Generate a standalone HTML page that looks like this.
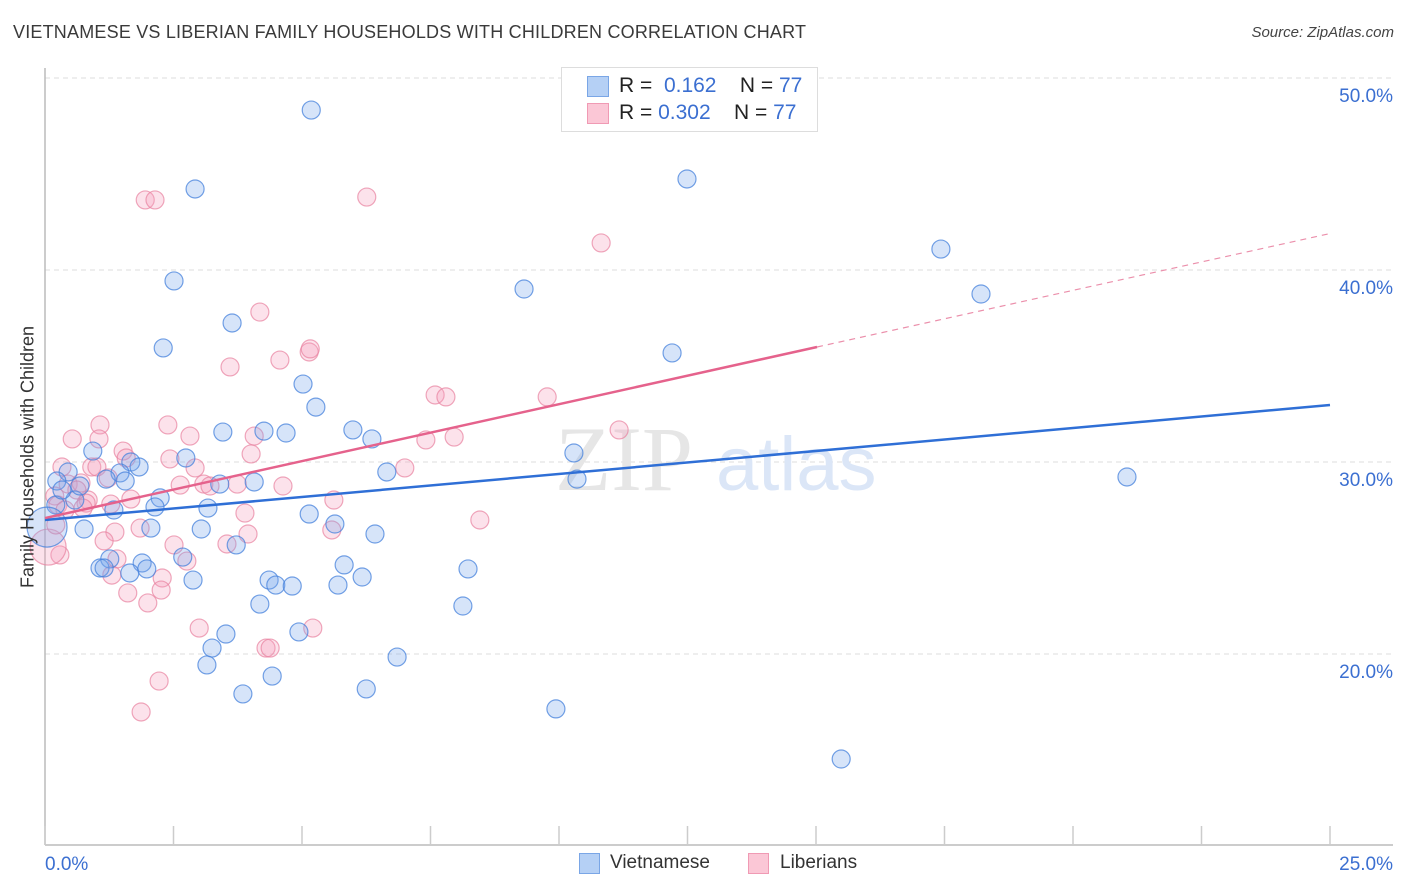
<!DOCTYPE html>
<html><head><meta charset="utf-8"><style>
body{margin:0;background:#fff;font-family:"Liberation Sans",sans-serif;}
#wrap{position:relative;width:1406px;height:892px;overflow:hidden;}
.t{position:absolute;white-space:nowrap;}
</style></head><body><div id="wrap">
<div class="t" style="left:13px;top:22px;font-size:18px;color:#3a3a3a;letter-spacing:0.2px">VIETNAMESE VS LIBERIAN FAMILY HOUSEHOLDS WITH CHILDREN CORRELATION CHART</div>
<div class="t" style="right:12px;top:24px;font-size:15px;color:#444;font-style:italic">Source: ZipAtlas.com</div>
<svg id="plot" width="1406" height="892" style="position:absolute;left:0;top:0"></svg>
<div class="t" style="left:28px;top:457px;font-size:18px;color:#333;transform:translate(-50%,-50%) rotate(-90deg)">Family Households with Children</div>
<div style="position:absolute;left:561px;top:67px;width:255px;height:63px;border:1px solid #ddd;background:#fff"></div>
<div style="position:absolute;left:587px;top:76px;width:20px;height:19px;background:#b5d0f5;border:1px solid #7aa6e6"></div>
<div style="position:absolute;left:587px;top:103px;width:20px;height:19px;background:#fbc7d6;border:1px solid #f09ab4"></div>
<div class="t" style="left:619px;top:74px;font-size:21px;color:#222">R = &nbsp;<span style="color:#3b6fd1">0.162</span>&nbsp;&nbsp;&nbsp; N = <span style="color:#3b6fd1">77</span></div>
<div class="t" style="left:619px;top:101px;font-size:21px;color:#222">R = <span style="color:#3b6fd1">0.302</span>&nbsp;&nbsp;&nbsp; N = <span style="color:#3b6fd1">77</span></div>
<div style="position:absolute;left:579px;top:853px;width:19px;height:19px;background:#b5d0f5;border:1px solid #7aa6e6"></div>
<div class="t" style="left:610px;top:852px;font-size:19px;color:#333">Vietnamese</div>
<div style="position:absolute;left:748px;top:853px;width:19px;height:19px;background:#fbc7d6;border:1px solid #f09ab4"></div>
<div class="t" style="left:780px;top:852px;font-size:19px;color:#333">Liberians</div>
</div>
<script>
const yTicks=[20,30,40,50];
const xTickLabels=["0.0%","25.0%"];
const blueX=[5.18,2.92,12.49,17.43,18.21,2.51,9.32,3.64,2.30,12.20,5.02,5.27,3.46,4.26,4.69,5.99,6.36,10.29,0.93,1.67,1.83,2.74,0.45,1.46,6.65,10.35,21.05,0.23,1.19,1.56,3.40,4.07,0.58,2.24,0.21,1.34,2.14,3.17,5.14,0.76,2.06,3.04,5.64,6.42,3.72,1.26,1.89,2.68,5.82,1.07,1.15,1.65,1.98,8.23,2.88,4.36,4.49,4.81,5.70,6.17,4.18,8.13,4.94,3.52,3.25,6.85,3.15,4.42,6.25,3.85,9.94,15.49,0.04,0.33,0.68];
const blueY=[48.33,44.22,44.74,41.09,38.75,39.43,39.01,37.24,35.94,35.68,34.06,32.86,31.56,31.61,31.51,31.67,31.20,30.47,30.57,30.00,29.74,30.21,29.48,29.43,29.48,29.11,29.22,29.01,29.11,29.01,28.85,28.96,28.02,28.13,27.76,27.50,27.66,27.60,27.29,26.51,26.56,26.51,26.77,26.25,25.68,24.95,24.74,25.05,24.64,24.48,24.48,24.22,24.43,24.43,23.85,23.85,23.59,23.54,23.59,24.01,22.60,22.50,21.15,21.04,20.31,19.84,19.43,18.85,18.18,17.92,17.14,14.53,26.61,28.54,28.75];
const pinkX=[1.95,2.14,6.26,10.82,4.18,3.60,4.57,5.14,5.16,7.59,7.80,9.77,11.17,7.96,7.41,2.39,1.07,0.53,1.05,2.82,4.07,1.52,1.58,0.91,1.01,2.43,2.92,4.01,7.00,0.33,0.45,0.70,1.23,2.63,3.09,3.21,3.74,4.63,1.67,0.84,0.80,1.28,0.19,0.25,5.62,3.89,3.95,1.36,1.85,8.46,5.58,2.51,1.15,3.54,1.40,2.76,0.29,0.06,1.30,2.28,1.61,2.00,2.26,3.00,5.21,4.30,4.38,2.22,1.87,0.21,0.39,0.74,0.62];
const pinkY=[43.65,43.65,43.80,41.41,37.81,34.95,35.31,35.73,35.89,33.49,33.39,33.39,31.67,31.30,31.15,31.93,31.93,31.20,31.20,31.35,31.35,30.57,30.21,29.74,29.74,30.16,29.69,30.42,29.69,29.74,28.85,28.91,29.17,28.80,28.85,28.75,28.85,28.75,28.07,28.02,27.86,27.81,28.23,27.76,28.02,27.34,26.25,26.35,26.56,26.98,26.46,25.68,25.89,25.73,24.95,24.84,25.16,25.57,24.11,23.96,23.18,22.66,23.33,21.35,21.35,20.31,20.31,18.59,16.98,26.72,27.50,27.60,28.54];
const blueTrend=[26.98,32.97];
const pinkTrend=[27.08,35.99,41.9];
const pinkSolidEnd=15.02;
const bigBlue=72, bigPink=57;

const sx=v=>45+v*51.4, sy=v=>1038-v*19.2;
const svg=document.getElementById('plot');const NS='http://www.w3.org/2000/svg';
function mk(tag,attrs){const e=document.createElementNS(NS,tag);for(const k in attrs)e.setAttribute(k,attrs[k]);svg.appendChild(e);return e;}
yTicks.forEach(t=>{
 const g=mk('line',{x1:45,x2:1393,y1:sy(t),y2:sy(t),stroke:'#ddd','stroke-dasharray':'5,4'});
 
 
 const tx=mk('text',{x:1393,y:sy(t)+24,'text-anchor':'end','font-size':19,fill:'#3b6fd1','font-family':'Liberation Sans, sans-serif'});tx.textContent=t.toFixed(1)+'%';
 
 
});
let a=mk('line',{x1:45,x2:45,y1:68,y2:845,stroke:'#bbb','stroke-width':1.5});


a=mk('line',{x1:45,x2:1393,y1:845,y2:845,stroke:'#bbb','stroke-width':1.5});


for(let i=0;i<=10;i++){const t=mk('line',{x1:sx(i*2.5),x2:sx(i*2.5),y1:826,y2:845,stroke:'#ccc','stroke-width':1.5});
 
 }
[[0,'start',45],[25,'end',1393]].forEach((p,i)=>{const tx=mk('text',{x:p[2],y:870,'text-anchor':p[1],'font-size':19,fill:'#3b6fd1','font-family':'Liberation Sans, sans-serif'});tx.textContent=xTickLabels[i];
 
 });
let w=mk('text',{x:555,y:490,'font-size':92,fill:'#e6e6e6','font-family':'Liberation Serif, serif'});w.textContent='ZIP';


w=mk('text',{x:716,y:490,'font-size':76,fill:'#dbe6f7','font-family':'Liberation Sans, sans-serif'});w.textContent='atlas';


pinkX.forEach((x,i)=>{const c=mk('circle',{cx:sx(x),cy:sy(pinkY[i]),r:i===bigPink?18:9,fill:'rgba(246,160,188,0.3)',stroke:'rgba(232,130,160,0.7)','stroke-width':1.2});
 
 });
blueX.forEach((x,i)=>{const c=mk('circle',{cx:sx(x),cy:sy(blueY[i]),r:i===bigBlue?20:9,fill:'rgba(120,165,235,0.3)',stroke:'rgba(70,130,220,0.75)','stroke-width':1.2});
 
 });
let l=mk('line',{x1:sx(0),y1:sy(blueTrend[0]),x2:sx(25),y2:sy(blueTrend[1]),stroke:'#2f6fd6','stroke-width':2.5});


l=mk('line',{x1:sx(0),y1:sy(pinkTrend[0]),x2:sx(pinkSolidEnd),y2:sy(pinkTrend[1]),stroke:'#e5628c','stroke-width':2.5});


l=mk('line',{x1:sx(pinkSolidEnd),y1:sy(pinkTrend[1]),x2:sx(25),y2:sy(pinkTrend[2]),stroke:'#eb8fab','stroke-width':1.2,'stroke-dasharray':'6,5'});


</script></body></html>
